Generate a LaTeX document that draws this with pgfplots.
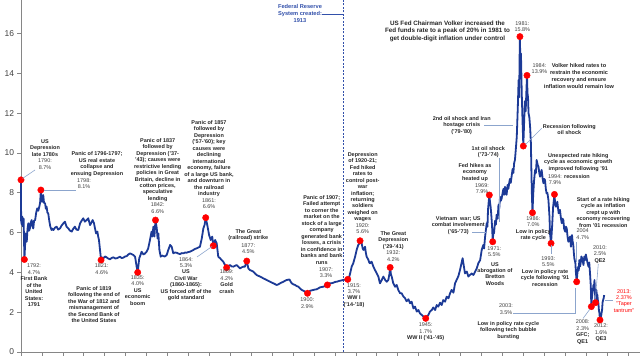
\documentclass[border=0pt]{standalone}
\usepackage{fontspec}
\setmainfont{Liberation Sans}
\usepackage{pgfplots}
\usepackage{pgfplotstable}
\pgfplotsset{compat=1.18}
\definecolor{lineblue}{RGB}{28,58,150}
\definecolor{fedblue}{RGB}{50,80,170}
\definecolor{leader}{RGB}{140,165,205}
\definecolor{txt}{RGB}{38,38,38}
\definecolor{lbl}{RGB}{64,64,64}
\definecolor{axgray}{RGB}{134,134,134}
\newcommand{\B}[1]{\textcolor{txt}{\bfseries #1}}

\pgfplotstableread{
year value
1790.00 8.65
1790.05 6.6
1790.3 6.4
1790.5 6.8
1790.8 6.3
1791.0 6.7
1791.3 4.65
1791.5 5.2
1791.8 5.96
1792.0 5.7
1792.2 5.54
1792.5 6.2
1792.8 6.47
1793.1 6.1
1793.4 6.21
1793.7 6.5
1794.1 6.63
1794.4 6.3
1794.7 6.21
1795.0 6.6
1795.4 6.63
1795.8 7.0
1796.2 7.22
1796.6 7.1
1797.0 7.30
1797.3 7.5
1797.6 8.14
1797.9 7.6
1798.2 7.55
1798.5 7.89
1798.8 7.5
1799.2 7.47
1799.5 7.2
1799.8 7.3
1800.1 7.0
1800.4 6.97
1800.8 6.6
1801.2 6.3
1801.7 6.13
1802.0 6.2
1802.4 6.13
1803.0 6.25
1803.6 6.30
1804.2 6.15
1804.9 6.21
1805.5 6.35
1806.2 6.47
1806.8 6.55
1807.4 6.3
1808.1 6.21
1808.7 6.1
1809.4 6.05
1810.0 6.2
1810.6 6.30
1811.2 6.15
1811.9 6.13
1812.6 6.47
1813.2 6.6
1813.8 6.72
1814.4 6.55
1815.1 6.63
1815.7 6.72
1816.4 6.38
1816.9 6.5
1817.4 6.63
1817.9 6.47
1818.3 6.2
1818.7 5.96
1819.2 6.05
1819.5 5.8
1819.8 5.63
1820.2 5.13
1820.6 4.62
1821.0 4.75
1821.5 4.71
1822.1 4.8
1822.7 4.76
1823.3 4.7
1824.0 4.66
1824.6 4.72
1825.3 4.76
1826.0 4.7
1826.6 4.71
1827.2 4.75
1827.8 4.79
1828.5 4.72
1829.1 4.74
1829.8 4.8
1830.4 4.82
1831.0 4.9
1831.7 4.96
1832.3 4.92
1832.9 4.88
1833.6 4.79
1834.2 4.29
1834.6 4.0
1835.2 4.71
1835.6 4.85
1836.1 5.04
1836.8 4.9
1837.4 4.95
1838.0 5.04
1838.6 5.2
1839.3 5.63
1839.9 6.05
1840.2 5.8
1840.6 6.30
1841.0 5.80
1841.4 6.63
1841.9 6.21
1842.2 5.7
1842.5 5.96
1842.9 5.13
1843.4 4.79
1843.9 4.85
1844.4 4.82
1845.0 4.8
1845.7 4.88
1846.3 5.13
1847.0 5.38
1847.6 5.29
1848.2 4.96
1848.8 5.0
1849.5 4.99
1850.1 4.95
1850.8 4.92
1851.4 4.97
1852.1 4.96
1852.7 5.0
1853.3 4.99
1853.9 5.02
1854.6 5.04
1855.2 5.08
1855.9 5.13
1856.5 5.18
1857.2 5.21
1857.8 5.25
1858.4 5.29
1859.1 5.71
1859.7 6.21
1860.2 6.4
1860.6 6.75
1861.2 6.38
1861.9 5.88
1862.5 5.63
1863.1 5.80
1863.5 5.34
1864.2 5.63
1864.8 5.46
1865.4 4.79
1866.1 4.71
1866.7 4.62
1867.3 4.54
1868.0 4.37
1868.6 4.24
1869.2 4.32
1869.9 4.37
1870.5 4.3
1871.2 4.29
1871.8 4.33
1872.4 4.37
1873.1 4.28
1873.7 4.20
1874.3 4.25
1875.0 4.29
1875.6 4.29
1876.3 4.57
1876.9 4.20
1877.5 4.12
1878.2 4.08
1878.8 4.04
1879.4 3.95
1880.1 3.87
1880.7 3.83
1881.4 3.79
1882.0 3.75
1882.6 3.70
1883.3 3.66
1883.9 3.62
1884.5 3.58
1885.2 3.53
1885.8 3.49
1886.5 3.45
1887.1 3.41
1887.7 3.37
1888.4 3.40
1889.0 3.45
1889.6 3.49
1890.3 3.53
1890.9 3.58
1891.6 3.62
1892.1 3.63
1892.6 3.65
1893.0 3.55
1893.5 3.45
1894.1 3.40
1894.7 3.37
1895.3 3.32
1896.0 3.28
1896.6 3.20
1897.3 3.12
1897.9 3.08
1898.6 3.03
1899.5 2.95
1900.0 3.00
1900.5 3.08
1901.2 3.10
1901.8 3.12
1902.4 3.14
1903.0 3.15
1903.7 3.20
1904.3 3.25
1905.0 3.27
1905.6 3.28
1906.3 3.33
1907.1 3.37
1907.6 3.42
1908.1 3.45
1908.8 3.46
1909.4 3.48
1910.0 3.52
1910.7 3.53
1911.3 3.56
1911.9 3.58
1912.6 3.60
1913.2 3.62
1914.0 3.64
1914.9 3.65
1915.4 3.75
1915.8 3.95
1916.4 4.29
1917.0 4.46
1917.7 4.79
1918.3 5.13
1918.9 5.38
1919.3 5.45
1919.6 5.59
1919.9 5.5
1920.2 5.46
1920.6 5.2
1920.9 5.13
1921.2 5.2
1921.5 5.29
1921.8 5.0
1922.1 4.79
1922.5 4.7
1922.8 4.62
1923.1 4.5
1923.4 4.46
1924.0 4.54
1924.7 4.29
1925.3 4.12
1926.0 3.95
1926.6 3.79
1927.2 3.45
1927.9 3.62
1928.5 3.79
1929.2 3.62
1929.8 3.53
1930.4 3.62
1930.8 3.9
1931.1 4.25
1931.4 3.9
1931.7 3.79
1932.3 3.45
1933.0 3.28
1933.6 3.37
1934.2 3.12
1934.9 2.95
1935.5 2.95
1936.2 2.78
1936.8 2.70
1937.4 2.55
1938.1 2.65
1938.7 2.45
1939.3 2.53
1940.0 2.19
1940.6 2.28
1941.3 2.03
1941.9 2.11
1942.5 1.94
1943.2 1.86
1943.8 1.78
1944.7 1.69
1945.2 1.80
1945.7 1.86
1946.3 2.03
1947.0 2.11
1947.6 2.24
1948.3 2.11
1948.9 2.36
1949.5 2.28
1950.2 2.48
1950.8 2.36
1951.4 2.61
1952.1 2.53
1952.7 2.78
1953.4 2.70
1954.0 2.95
1954.6 3.12
1955.3 2.98
1955.9 3.45
1956.5 3.62
1957.2 3.82
1957.8 4.12
1958.5 4.54
1958.8 4.71
1959.3 4.29
1959.7 3.95
1960.4 4.04
1961.0 3.79
1961.6 3.87
1962.3 3.95
1962.9 3.87
1963.6 4.04
1964.2 4.20
1964.8 4.46
1965.5 4.62
1966.1 5.13
1966.7 5.38
1967.0 5.2
1967.4 5.80
1968.0 6.47
1968.3 6.3
1968.5 7.14
1969.0 7.89
1969.3 7.5
1969.5 7.30
1969.7 7.0
1969.9 6.63
1970.1 6.2
1970.3 5.54
1970.6 6.1
1970.8 5.96
1971.2 6.6
1971.5 6.4
1971.8 6.9
1972.2 6.7
1972.5 7.4
1972.8 7.2
1973.1 7.8
1973.4 7.6
1973.7 7.7
1974.1 8.0
1974.4 8.2
1974.7 7.9
1975.0 8.3
1975.3 8.0
1975.6 7.9
1976.0 8.4
1976.3 8.2
1976.6 8.5
1976.9 8.7
1977.2 8.5
1977.6 8.9
1977.9 9.2
1978.2 9.0
1978.5 9.5
1978.8 9.65
1979.2 10.3
1979.5 10.82
1979.9 12.33
1980.2 13.67
1980.4 12.8
1980.6 15.0
1980.7 15.85
1980.9 14.2
1981.1 15.0
1981.4 13.0
1981.7 11.6
1982.0 10.35
1982.3 11.5
1982.6 12.6
1982.9 12.1
1983.2 13.2
1983.4 13.9
1983.6 13.0
1983.8 12.8
1984.0 12.0
1984.3 11.8
1984.6 11.3
1984.9 10.5
1985.1 9.0
1985.3 7.8
1985.5 7.0
1985.8 7.97
1986.1 8.6
1986.5 9.15
1986.8 9.0
1987.1 9.65
1987.5 9.4
1987.8 9.31
1988.1 9.0
1988.4 8.81
1988.7 9.0
1989.0 9.15
1989.4 8.7
1989.7 8.48
1990.0 8.7
1990.3 8.64
1990.6 8.2
1990.9 7.97
1991.2 8.0
1991.6 7.64
1992.0 6.8
1992.2 5.96
1992.6 5.46
1993.0 6.3
1993.4 7.3
1993.9 7.92
1994.2 7.4
1994.5 7.3
1995.0 7.55
1995.5 6.97
1996.0 7.14
1996.4 6.7
1996.7 6.47
1997.0 6.7
1997.3 6.63
1997.6 6.2
1998.0 6.05
1998.3 6.3
1998.6 6.21
1998.9 5.8
1999.2 5.54
1999.5 5.7
1999.9 5.80
2000.2 5.29
2000.6 5.88
2000.8 5.6
2001.1 5.38
2001.3 5.0
2001.5 4.71
2001.9 4.46
2002.1 4.0
2002.4 3.53
2002.7 4.0
2003.0 4.29
2003.2 4.1
2003.4 4.62
2003.7 4.3
2003.9 4.46
2004.2 4.8
2004.5 4.71
2004.8 4.5
2005.0 4.37
2005.3 4.8
2005.6 4.62
2005.9 4.9
2006.2 4.71
2006.5 4.5
2006.9 4.29
2007.2 4.5
2007.5 3.95
2007.8 3.28
2008.0 2.28
2008.2 2.7
2008.4 2.95
2008.6 3.1
2008.8 3.37
2009.0 3.2
2009.2 3.62
2009.4 3.0
2009.6 2.48
2009.8 3.0
2009.9 3.12
2010.1 2.9
2010.3 2.86
2010.5 2.6
2010.7 2.45
2010.9 2.1
2011.1 1.94
2011.3 1.61
2011.5 1.75
2011.7 1.78
2011.9 1.95
2012.1 2.11
2012.3 2.5
2012.5 2.61
2012.7 2.7
2012.9 2.86
}\rates

\pgfplotstableread{
year value
1790.0 8.65
1791.3 4.65
1797.6 8.14
1820.6 4.62
1834.6 4.0
1841.4 6.63
1860.6 6.75
1863.5 5.34
1868.6 4.24
1876.3 4.57
1899.5 2.95
1907.1 3.37
1914.9 3.65
1919.6 5.59
1931.1 4.25
1944.7 1.69
1969.0 7.89
1970.3 5.54
1980.7 15.85
1982.0 10.35
1983.4 13.9
1985.5 7.0
1992.6 5.46
1993.9 7.92
2002.4 3.53
2008.0 2.28
2009.6 2.48
2011.3 1.61
}\reddots

\begin{document}
\begin{tikzpicture}[
  lab/.style={font=\fontsize{5.5}{6.5}\selectfont, text=lbl, align=center, inner sep=0pt, anchor=north},
  bl/.style={font=\fontsize{5.5}{6.5}\selectfont\bfseries, text=txt, align=center, inner sep=0pt, anchor=north},
  ld/.style={draw=leader, line width=0.6bp}
]
\begin{axis}[at={(0,0)}, anchor=south west, scale only axis, width=619bp, height=352bp,
  xmin=1790, xmax=2026.6, ymin=0, ymax=17.69,
  axis x line=bottom, axis y line=left,
  axis line style={-, draw=axgray, line width=0.8bp},
  xtick={1790,1798,...,2022}, xticklabels={},
  ytick={0,2,...,16},
  tick align=outside, major tick length=3.5bp,
  tick style={draw=axgray, line width=0.7bp},
  yticklabel style={font=\fontsize{8.5}{10}\selectfont, text=lbl},
  /pgf/number format/assume math mode=true,
  clip=false]
\draw[fedblue, line width=0.6bp, dash pattern=on 2bp off 1.5bp] (axis cs:1913.1,0) -- (axis cs:1913.1,17.69);
\addplot[lineblue, line width=1.8bp, line join=round, mark=none] table[x=year,y=value]{\rates};
\addplot[only marks, mark=*, mark size=3.2bp, mark options={fill=red, draw=red}] table[x=year,y=value]{\reddots};
\end{axis}
\begin{scope}[x=1bp,y=-1bp,shift={(-21bp,352bp)}]
\node[lab] at (45,139.5) {\B{US}\\\B{Depression}\\\B{late 1780s}\\1790:\\8.7\%};
\draw[ld] (35,170) -- (22.5,178.5);
\node[bl] at (97,151.5) {Panic of 1796-1797;\\US real estate\\collapse and\\ensuing Depression};
\node[lab] at (84,178) {1798:\\8.1\%};
\draw[ld] (44,190) -- (76,190);
\node[lab] at (157.7,138) {\B{Panic of 1837}\\\B{followed by}\\\B{Depression ('37-}\\\B{'43); causes were}\\\B{restrictive lending}\\\B{policies in Great}\\\B{Britain, decline in}\\\B{cotton prices,}\\\B{speculative}\\\B{lending}\\1842:\\6.6\%};
\node[lab] at (209,120.3) {\B{Panic of 1857}\\\B{followed by}\\\B{Depression}\\\B{('57-'60); key}\\\B{causes were}\\\B{declining}\\\B{international}\\\B{economy, failure}\\\B{of a large US bank,}\\\B{and downturn in}\\\B{the railroad}\\\B{industry}\\1861:\\6.6\%};
\node[lab] at (248.3,229.3) {\B{The Great}\\\B{(railroad) strike}\\[1bp]1877:\\4.5\%};
\node[lab] at (186,257) {1864:\\5.3\%\\\B{US}\\\B{Civil War}\\\B{(1860-1865):}\\\B{US forced off of the}\\\B{gold standard}};
\draw[ld] (212,246.5) -- (197,257);
\node[lab] at (34,263.7) {1792:\\4.7\%\\\B{First Bank}\\\B{of the}\\\B{United}\\\B{States:}\\\B{1791}};
\node[lab] at (101.7,263.7) {1821:\\4.6\%};
\node[bl] at (94,286) {Panic of 1819\\following the end of\\the War of 1812 and\\mismanagement of\\the Second Bank of\\the United States};
\node[lab] at (137.7,275.3) {1835:\\4.0\%\\\B{US}\\\B{economic}\\\B{boom}};
\node[lab] at (226.7,269.7) {1869:\\4.2\%\\\B{Gold}\\\B{crash}};
\node[bl] at (321.7,195.3) {Panic of 1907;\\Failed attempt\\to corner the\\market on the\\stock of a large\\company\\generated bank\\losses, a crisis\\in confidence in\\banks and bank\\runs};
\node[lab] at (326,267) {1907:\\3.3\%};
\node[lab] at (307.3,297.7) {1900:\\2.9\%};
\node[lab] at (362.7,152) {\B{Depression}\\\B{of 1920-21;}\\\B{Fed hiked}\\\B{rates to}\\\B{control post-}\\\B{war}\\\B{inflation;}\\\B{returning}\\\B{soldiers}\\\B{weighed on}\\\B{wages}\\1920:\\5.6\%};
\node[lab] at (393.3,231.3) {\B{The Great}\\\B{Depression}\\\B{('29-'41)}\\1932:\\4.2\%};
\node[lab] at (354,283) {1915:\\3.7\%\\\B{WW I}\\\B{('14-'18)}};
\node[lab] at (425.7,322.7) {1945:\\1.7\%\\\B{WW II ('41-'45)}};
\node[bl] at (458.3,216.3) {Vietnam\ \ war; US\\combat involvement\\('65-'73)};
\draw[ld] (472,232) -- (486,232);
\node[bl] at (475,163) {Fed hikes as\\economy\\heated up};
\node[lab] at (482,183) {1969:\\7.9\%};
\node[bl] at (488.3,146.3) {1st oil shock\\('73-'74)};
\draw[ld] (499,158) -- (499,222);
\node[bl] at (461.7,116.3) {2nd oil shock and Iran\\hostage crisis\\('79-'80)};
\draw[ld] (484,125.7) -- (513,125.7);
\node[bl, font=\fontsize{6.3}{7.5}\selectfont\bfseries] at (447.5,20.5) {US Fed Chairman Volker increased the\\Fed funds rate to a peak of 20\% in 1981 to\\get double-digit inflation under control};
\node[lab] at (522.3,21) {1981:\\15.8\%};
\node[lab] at (539.5,63.5) {1984:\\13.9\%};
\node[bl, font=\fontsize{5.6}{6.9}\selectfont\bfseries] at (579,63.5) {Volker hiked rates to\\restrain the economic\\recovery and ensure\\inflation would remain low};
\node[bl] at (569.3,124.3) {Recession following\\oil shock};
\draw[ld] (525.5,144.5) -- (541.7,128.3);
\node[bl] at (578.3,153.2) {Unexpected rate hiking\\cycle as economic growth\\improved following '91};
\node[lab] at (555,174) {1994:\\7.9\%};
\node[bl] at (577,174) {recession};
\node[lab] at (533.3,216.3) {1986:\\7.0\%\\\B{Low in policy}\\\B{rate cycle}};
\node[lab] at (548.3,256.3) {1993:\\5.5\%};
\node[bl] at (545,269.3) {Low in policy rate\\cycle following '91\\recession};
\draw[ld] (551,245) -- (551,254);
\node[bl] at (603.3,197) {Start of a rate hiking\\cycle as inflation\\crept up with\\economy recovering\\from '01 recession};
\node[lab] at (582.7,228.7) {2004\\4.7\%};
\draw[ld] (576,242) -- (576,262);
\node[lab] at (506,303.7) {2003:\\3.5\%};
\draw[ld] (513,313.3) -- (575.7,313.3) -- (575.7,288);
\node[bl] at (508.3,321) {Low in policy rate cycle\\following tech bubble\\bursting};
\node[lab] at (582.7,319.7) {2008:\\2.3\%\\\B{GFC;}\\\B{QE1}};
\draw[ld] (590,309) -- (583,318.5);
\node[lab] at (600,245.3) {2010:\\2.5\%\\\B{QE2}};
\draw[ld] (595.3,299.5) -- (598.3,264);
\node[lab] at (601,323.7) {2012:\\1.6\%\\\B{QE3}};
\node[lab, text=red] at (624,289) {2013:\\2.37\%\\"Taper\\tantrum"};
\draw[ld] (605,300.7) -- (613,300.7);
\node[bl, font=\fontsize{5.7}{7}\selectfont\bfseries, text=fedblue] at (300,4) {Federal Reserve\\System created:\\1913};
\draw[fedblue, line width=0.6bp] (322,14) -- (343,14);
\node[lab] at (494.3,246) {1971:\\5.5\%};
\node[bl] at (495,262) {US\\abrogation of\\Bretton\\Woods};
\end{scope}
\pgfresetboundingbox
\path[use as bounding box] (-21bp,-8bp) rectangle (619bp,352bp);
\end{tikzpicture}
\end{document}
